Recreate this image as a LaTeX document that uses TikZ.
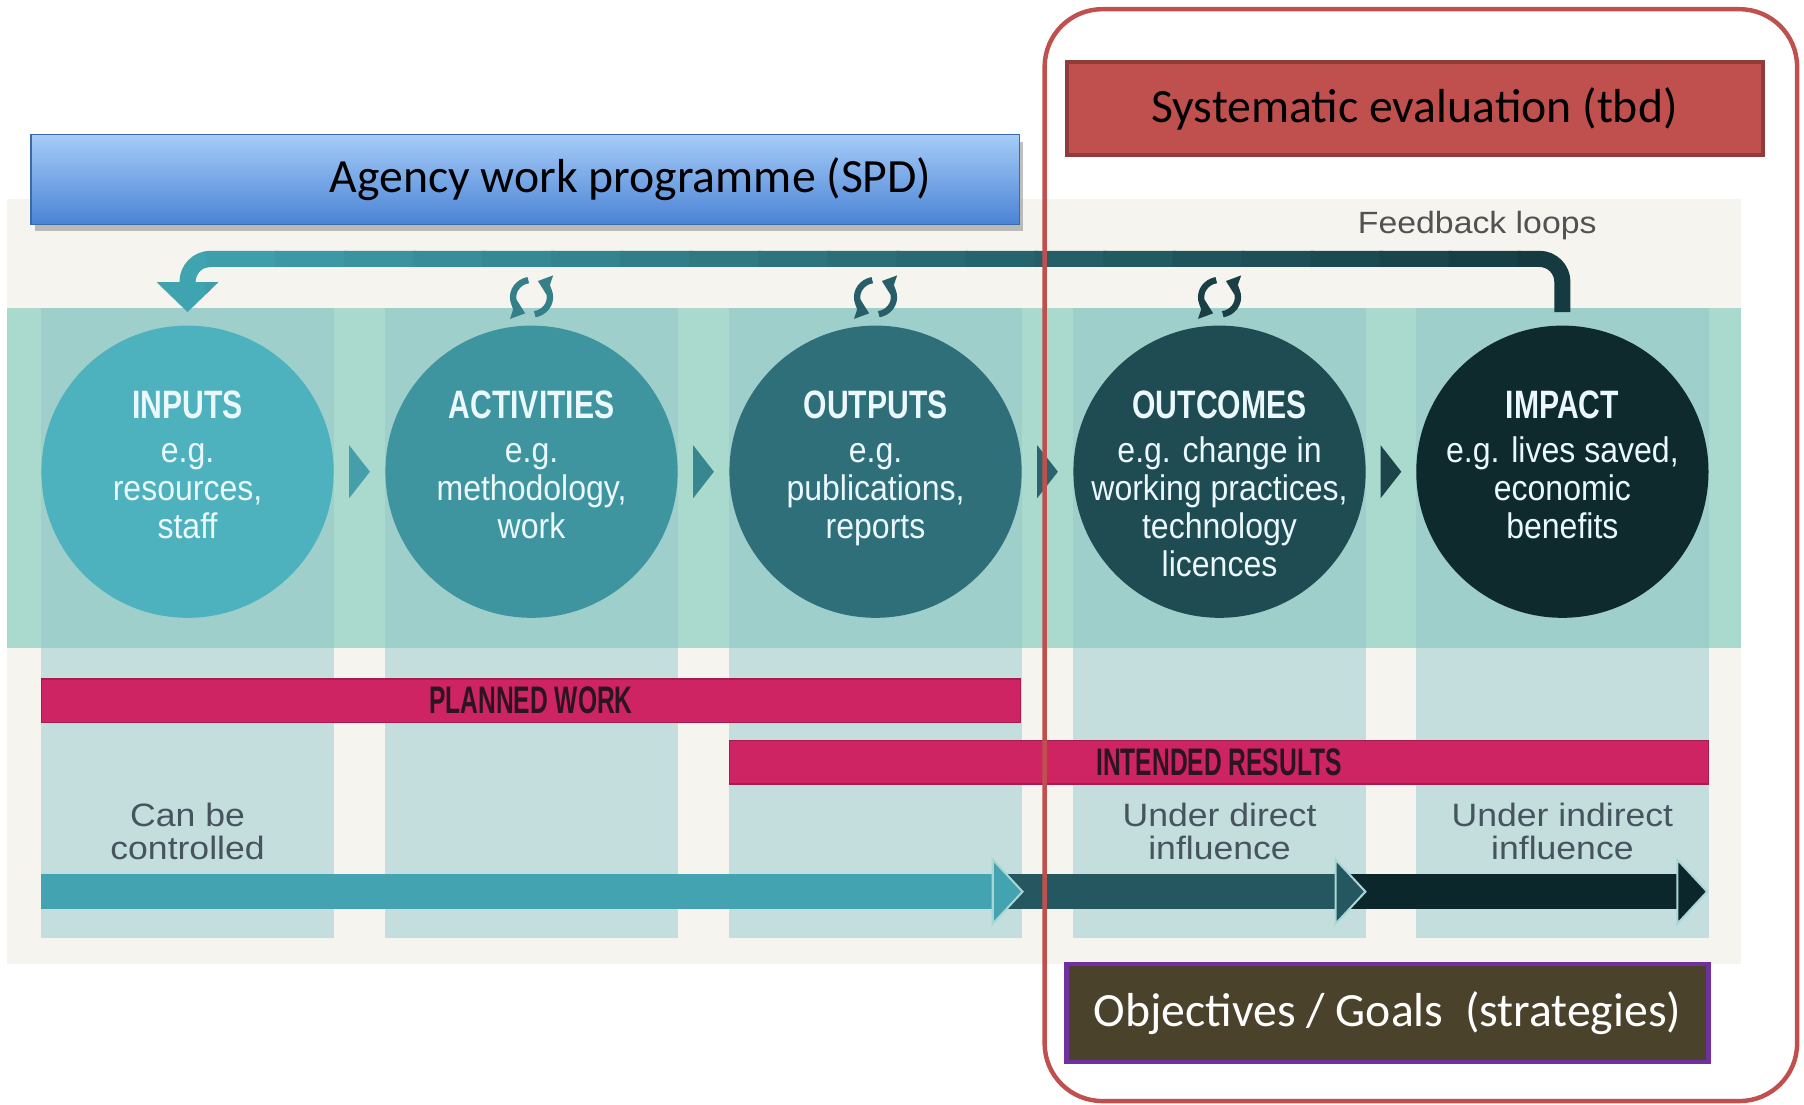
\documentclass[tikz,border=0pt]{standalone}
\usepackage{fontspec}
\setmainfont{Carlito}
\newfontfamily\headfont[FakeStretch=0.76]{Liberation Sans}
\newfontfamily\barfont[FakeStretch=0.64]{Liberation Sans}
\newfontfamily\bodyfont[FakeStretch=0.9]{Liberation Sans}
\newfontfamily\notefont[FakeStretch=1.1]{Liberation Sans}
\usetikzlibrary{calc,arrows.meta,shadows}

\definecolor{cream}{HTML}{F6F4EF}
\definecolor{mint}{HTML}{AAD9CE}
\definecolor{colup}{HTML}{9FCFCB}
\definecolor{collow}{HTML}{C4DEDD}
\definecolor{sA}{HTML}{4DB1BE}
\definecolor{sB}{HTML}{3E95A0}
\definecolor{sC}{HTML}{2E6F7A}
\definecolor{sD}{HTML}{1F4B52}
\definecolor{sE}{HTML}{0E2A2D}
\definecolor{fbL}{HTML}{40A3B0}
\definecolor{fbR}{HTML}{153A40}
\definecolor{segA}{HTML}{44A3B1}
\definecolor{segB}{HTML}{24575F}
\definecolor{segC}{HTML}{0C272B}
\definecolor{tipedge}{HTML}{A9D6D6}
\definecolor{pinkbar}{HTML}{CE2463}
\definecolor{bartxt}{HTML}{2A1520}
\definecolor{spdtop}{HTML}{A6CCF8}
\definecolor{spdbot}{HTML}{4A83D5}
\definecolor{spdline}{HTML}{3A69AC}
\definecolor{evalred}{HTML}{C0504D}
\definecolor{goalbox}{HTML}{4A422A}
\definecolor{goalline}{HTML}{7030A0}

\tikzset{
  stage/.style={circle, minimum size=25.4mm, inner sep=0pt, fill=#1},
  stagetxt/.style={anchor=north, inner sep=0pt, align=center, text=white!92!cyan,
    font=\bodyfont\fontsize{8.8}{9.4}\selectfont},
  bar/.style={fill=pinkbar, draw=pinkbar!80!black, line width=0.4pt, minimum width=85.1mm,
    minimum height=3.8mm, inner sep=0pt, text=bartxt, font=\barfont\bfseries\fontsize{9.5}{10}\selectfont},
  note/.style={align=center, text=black!72!cyan, font=\notefont\fontsize{8}{8.2}\selectfont},
  flow/.style={line width=3mm, -{Triangle[width=6mm,length=2.8mm,line width=0.5pt,color=tipedge,fill=#1]}, #1},
  boxtxt/.style={font=\fontsize{11.8}{14}\selectfont}
}

\begin{document}
\begin{tikzpicture}[x=0.1mm,y=-0.1mm]
\useasboundingbox (0,0) rectangle (1568,960);

\fill[cream] (6,173) rectangle (1513,838);
\fill[mint] (6,268) rectangle (1513,563);
\foreach \x in {163,462,761,1060,1358} {
  \fill[colup] (\x-127,268) rectangle (\x+127,563);
  \fill[collow] (\x-127,563) rectangle (\x+127,815);
}

\node[draw=spdline, line width=0.4pt, top color=spdtop, bottom color=spdbot,
  minimum width=85.9mm, minimum height=7.8mm, drop shadow={opacity=0.5,shadow xshift=0.3mm,shadow yshift=-0.6mm}]
  (spd) at (456.5,156) {};
\node[boxtxt] at (548,156) {Agency work programme (SPD)};

\node[stage=sA] (inputs) at (163,410) {};
\node[stage=sB] (activities) at (462,410) {};
\node[stage=sC] (outputs) at (761,410) {};
\node[stage=sD] (outcomes) at (1060,410) {};
\node[stage=sE] (impact) at (1358,410) {};

\node[stagetxt] at ([yshift=-5.7mm]inputs.north) {{\headfont\bfseries\fontsize{9.8}{10}\selectfont INPUTS}\\[0.5mm] e.g.\\ resources,\\ staff};
\node[stagetxt] at ([yshift=-5.7mm]activities.north) {{\headfont\bfseries\fontsize{9.8}{10}\selectfont ACTIVITIES}\\[0.5mm] e.g.\\ methodology,\\ work};
\node[stagetxt] at ([yshift=-5.7mm]outputs.north) {{\headfont\bfseries\fontsize{9.8}{10}\selectfont OUTPUTS}\\[0.5mm] e.g.\\ publications,\\ reports};
\node[stagetxt] at ([yshift=-5.7mm]outcomes.north) {{\headfont\bfseries\fontsize{9.8}{10}\selectfont OUTCOMES}\\[0.5mm] e.g. change in\\ working practices,\\ technology\\ licences};
\node[stagetxt] at ([yshift=-5.7mm]impact.north) {{\headfont\bfseries\fontsize{9.8}{10}\selectfont IMPACT}\\[0.5mm] e.g. lives saved,\\ economic\\ benefits};

\foreach \a/\b/\c in {inputs/activities/sA, activities/outputs/sB, outputs/outcomes/sC, outcomes/impact/sD}
  \fill[\c!90!black] ($(\a.east)!0.5!(\b.west)$) ++(-0.9mm,2.3mm) -- ++(1.8mm,-2.3mm) -- ++(-1.8mm,-2.3mm) -- cycle;

\foreach \s/\c in {activities/sB, outputs/sC, outcomes/sD} {
  \draw[\c!85!black, line width=0.55mm, -{Triangle[width=1.7mm,length=1.1mm]}]
    ([xshift=-0.28mm,yshift=3.88mm]\s.north) arc[start angle=100,end angle=250,x radius=1.6mm,y radius=1.5mm];
  \draw[\c!85!black, line width=0.55mm, -{Triangle[width=1.7mm,length=1.1mm]}]
    ([xshift=0.28mm,yshift=0.92mm]\s.north) arc[start angle=-80,end angle=70,x radius=1.6mm,y radius=1.5mm];
}

\foreach \i in {0,...,20} {
  \pgfmathtruncatemacro\p{5*\i}
  \begin{scope}
    \clip (119+60*\i,170) rectangle (182+60*\i,300);
    \draw[fbR!\p!fbL, line width=1.4mm, rounded corners=2mm, -{Triangle[width=5.2mm,length=2.6mm]}]
      ([yshift=1.1mm]impact.north) |- (inputs.north |- 0,225) -- ([yshift=1.1mm]inputs.north);
  \end{scope}
}
\node[text=black!68, font=\notefont\fontsize{7.6}{8}\selectfont] at (1284,196) {Feedback loops};

\node[bar] (planned) at (461.5,609) {PLANNED WORK};
\node[bar] (intended) at (1059.5,662.5) {INTENDED RESULTS};

\node[note] at (163,723) {Can be\\ controlled};
\node[note] at (1060,723) {Under direct\\ influence};
\node[note] at (1358,723) {Under indirect\\ influence};

\draw[flow=segC] (1170,775) -- (1485,775);
\draw[flow=segB] (870,775) -- (1188,775);
\draw[flow=segA] (36,775) -- (890,775);

\draw[evalred, line width=1.1pt, rounded corners=5mm] (908,8) rectangle (1562,957);
\node[boxtxt, fill=evalred, draw=evalred!75!black, line width=1pt, minimum width=60.5mm, minimum height=8.1mm]
  (eval) at (1229.5,94.5) {Systematic evaluation (tbd)};
\node[boxtxt, text=white, fill=goalbox, draw=goalline, line width=1.1pt, minimum width=55.8mm, minimum height=8.5mm]
  (goals) at (1206,880.5) {Objectives / Goals~~(strategies)};
\end{tikzpicture}
\end{document}
